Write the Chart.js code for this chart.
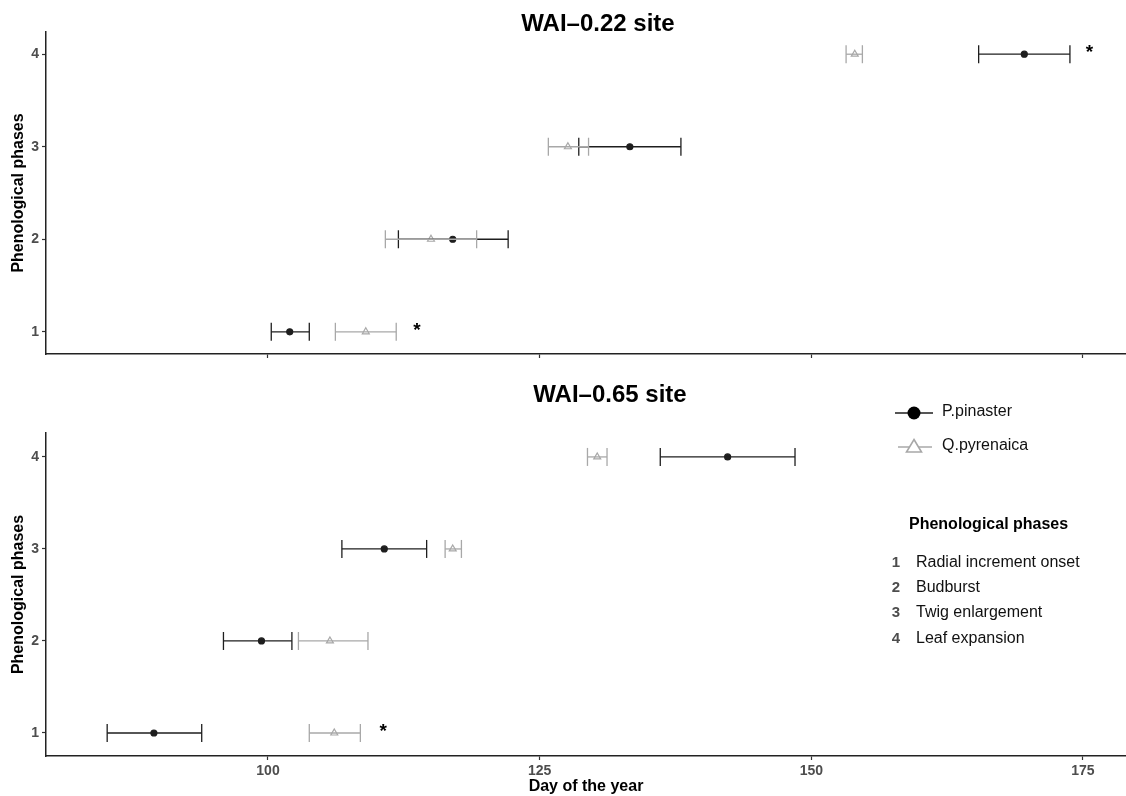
<!DOCTYPE html>
<html>
<head>
<meta charset="utf-8">
<script src="https://cdn.jsdelivr.net/npm/chart.js@4"></script>
<style>
  html, body { margin: 0; padding: 0; background: #fff; }
  #wrap { position: relative; width: 1126px; height: 796px; overflow: hidden; }
  canvas { position: absolute; left: 0; }
  #topCanvas { top: 0; }
  #botCanvas { top: 380px; }
</style>
</head>
<body>
<div id="wrap">
  <canvas id="topCanvas" width="1126" height="380"></canvas>
  <canvas id="botCanvas" width="1126" height="416"></canvas>
</div>
<script>
// Phenological phase numbers and their names
const phases = [1, 2, 3, 4];
const phaseNames = ['Radial increment onset', 'Budburst', 'Twig enlargement', 'Leaf expansion'];
const dayTicks = [100, 125, 150, 175];
const speciesNames = ['P.pinaster', 'Q.pyrenaica'];
const panelTitles = ['WAI\u20130.22 site', 'WAI\u20130.65 site'];

// WAI-0.22 site: mean day of the year and error limits per phase
const pinTopMean = [102.0, 117.0, 133.3, 169.6];
const pinTopLow  = [100.3, 112.0, 128.6, 165.4];
const pinTopHigh = [103.8, 122.1, 138.0, 173.8];
const pyrTopMean = [109.0, 115.0, 127.6, 154.0];
const pyrTopLow  = [106.2, 110.8, 125.8, 153.2];
const pyrTopHigh = [111.8, 119.2, 129.5, 154.7];
// significant differences (asterisks)
const starTopDay = [113.7, 175.6];
const starTopPhase = [1, 4];

// WAI-0.65 site
const pinBotMean = [89.5, 99.4, 110.7, 142.3];
const pinBotLow  = [85.2, 95.9, 106.8, 136.1];
const pinBotHigh = [93.9, 102.2, 114.6, 148.5];
const pyrBotMean = [106.1, 105.7, 117.0, 130.3];
const pyrBotLow  = [103.8, 102.8, 116.3, 129.4];
const pyrBotHigh = [108.5, 109.2, 117.8, 131.2];
const starBotDay = [110.6];
const starBotPhase = [1];

const PIN_COLOR = '#1e1e1e';
const PYR_COLOR = '#a8a8a8';
const FONT = '"Liberation Sans", Arial, Helvetica, sans-serif';

function errorBarSets(low, high, color) {
  return phases.map((p, i) => ({
    type: 'scatter',
    showLine: true,
    data: [{ x: low[i], y: p }, { x: high[i], y: p }],
    borderColor: color,
    borderWidth: 1.3,
    pointStyle: 'line',
    pointRotation: 90,
    pointRadius: 9,
    pointHoverRadius: 9,
    pointBorderColor: color,
    pointBorderWidth: 1.3,
    backgroundColor: color
  }));
}

function meanSet(mean, style, color, radius, fill) {
  return {
    type: 'scatter',
    data: phases.map((p, i) => ({ x: mean[i], y: p })),
    pointStyle: style,
    pointRadius: radius,
    pointHoverRadius: radius,
    pointBackgroundColor: fill,
    pointBorderColor: color,
    pointBorderWidth: 1.2
  };
}

// draws "*" marks at data positions
const starPlugin = {
  id: 'stars',
  afterDatasetsDraw(chart, args, opts) {
    const { ctx, scales } = chart;
    ctx.save();
    ctx.fillStyle = '#000';
    ctx.font = 'bold 19px ' + FONT;
    ctx.textAlign = 'center';
    ctx.textBaseline = 'middle';
    opts.days.forEach((d, i) => {
      ctx.fillText('*', scales.x.getPixelForValue(d), scales.y.getPixelForValue(opts.phases[i]) - 1);
    });
    ctx.restore();
  }
};

// panel title
const titlePlugin = {
  id: 'panelTitle',
  afterDraw(chart, args, opts) {
    const ctx = chart.ctx;
    ctx.save();
    ctx.fillStyle = '#000';
    ctx.font = 'bold 24px ' + FONT;
    ctx.textAlign = 'center';
    ctx.textBaseline = 'alphabetic';
    ctx.fillText(opts.text, opts.cx, opts.y);
    ctx.restore();
  }
};

// species key and phase key inside the lower panel
const keyPlugin = {
  id: 'speciesKey',
  afterDraw(chart) {
    const ctx = chart.ctx;
    ctx.save();
    // P.pinaster
    ctx.strokeStyle = PIN_COLOR; ctx.lineWidth = 1.3;
    ctx.beginPath(); ctx.moveTo(895, 33); ctx.lineTo(933, 33); ctx.stroke();
    ctx.fillStyle = '#000';
    ctx.beginPath(); ctx.arc(914, 33, 6.5, 0, Math.PI * 2); ctx.fill();
    // Q.pyrenaica
    ctx.strokeStyle = PYR_COLOR; ctx.lineWidth = 1.3;
    ctx.beginPath(); ctx.moveTo(898, 67); ctx.lineTo(932, 67); ctx.stroke();
    ctx.lineWidth = 1.6;
    ctx.fillStyle = '#fff';
    ctx.beginPath(); ctx.moveTo(914, 59.5); ctx.lineTo(921.5, 72); ctx.lineTo(906.5, 72); ctx.closePath();
    ctx.fill(); ctx.stroke();

    ctx.fillStyle = '#111';
    ctx.font = '16px ' + FONT;
    ctx.textAlign = 'left';
    ctx.textBaseline = 'middle';
    ctx.fillText(speciesNames[0], 942, 32);
    ctx.fillText(speciesNames[1], 942, 66);

    ctx.font = 'bold 16px ' + FONT;
    ctx.fillStyle = '#000';
    ctx.fillText('Phenological phases', 909, 145);

    const rows = [183, 208, 233, 259];
    phases.forEach((p, i) => {
      ctx.font = 'bold 15px ' + FONT;
      ctx.fillStyle = '#4d4d4d';
      ctx.textAlign = 'center';
      ctx.fillText(String(p), 896, rows[i]);
      ctx.font = '16px ' + FONT;
      ctx.fillStyle = '#111';
      ctx.textAlign = 'left';
      ctx.fillText(phaseNames[i], 916, rows[i]);
    });
    ctx.restore();
  }
};

function panelOptions(cfg) {
  return {
    responsive: false,
    animation: false,
    events: [],
    layout: { autoPadding: false, padding: { top: cfg.padTop, right: 0, bottom: 0, left: 0 } },
    plugins: {
      legend: { display: false },
      tooltip: { enabled: false },
      stars: { days: cfg.starDays, phases: cfg.starPhases },
      panelTitle: { text: cfg.title, cx: cfg.titleX, y: cfg.titleY }
    },
    scales: {
      x: {
        type: 'linear',
        min: 79.57,
        max: 178.96,
        afterBuildTicks: s => { s.ticks = dayTicks.map(v => ({ value: v })); },
        afterFit: s => { s.height = cfg.xHeight; s.paddingLeft = 0; s.paddingRight = 0; },
        grid: { drawOnChartArea: false, drawTicks: true, tickLength: 4, tickColor: '#333', tickWidth: 1.2 },
        border: { display: true, color: '#222', width: 1.5 },
        ticks: {
          display: cfg.showXLabels,
          color: '#4d4d4d',
          font: { family: FONT, size: 14, weight: 'bold' },
          padding: 3,
          maxRotation: 0
        },
        title: {
          display: cfg.showXLabels,
          text: 'Day of the year',
          color: '#000',
          font: { family: FONT, size: 16, weight: 'bold' },
          padding: { top: 0, bottom: 0 }
        }
      },
      y: {
        type: 'linear',
        min: cfg.yMin,
        max: cfg.yMax,
        afterBuildTicks: s => { s.ticks = phases.map(v => ({ value: v })); },
        afterFit: s => { s.width = 46; s.paddingTop = 0; s.paddingBottom = 0; },
        grid: { drawOnChartArea: false, drawTicks: true, tickLength: 4, tickColor: '#333', tickWidth: 1.2 },
        border: { display: true, color: '#222', width: 1.5 },
        ticks: {
          color: '#4d4d4d',
          font: { family: FONT, size: 14, weight: 'bold' },
          padding: 3
        },
        title: {
          display: true,
          text: 'Phenological phases',
          color: '#000',
          font: { family: FONT, size: 16, weight: 'bold' },
          padding: { top: 9, bottom: 0 }
        }
      }
    }
  };
}

new Chart(document.getElementById('topCanvas'), {
  type: 'scatter',
  data: {
    datasets: [
      ...errorBarSets(pyrTopLow, pyrTopHigh, PYR_COLOR),
      ...errorBarSets(pinTopLow, pinTopHigh, PIN_COLOR),
      meanSet(pyrTopMean, 'triangle', PYR_COLOR, 4, 'rgba(255,255,255,0)'),
      meanSet(pinTopMean, 'circle', PIN_COLOR, 3, PIN_COLOR)
    ]
  },
  options: panelOptions({
    padTop: 32, xHeight: 26, showXLabels: false, yMin: 0.76, yMax: 4.24,
    starDays: starTopDay, starPhases: starTopPhase,
    title: panelTitles[0], titleX: 598, titleY: 31
  }),
  plugins: [starPlugin, titlePlugin]
});

new Chart(document.getElementById('botCanvas'), {
  type: 'scatter',
  data: {
    datasets: [
      ...errorBarSets(pyrBotLow, pyrBotHigh, PYR_COLOR),
      ...errorBarSets(pinBotLow, pinBotHigh, PIN_COLOR),
      meanSet(pyrBotMean, 'triangle', PYR_COLOR, 4, 'rgba(255,255,255,0)'),
      meanSet(pinBotMean, 'circle', PIN_COLOR, 3, PIN_COLOR)
    ]
  },
  options: panelOptions({
    padTop: 53, xHeight: 40, showXLabels: true, yMin: 0.75, yMax: 4.26,
    starDays: starBotDay, starPhases: starBotPhase,
    title: panelTitles[1], titleX: 610, titleY: 22
  }),
  plugins: [starPlugin, titlePlugin, keyPlugin]
});
</script>
</body>
</html>
